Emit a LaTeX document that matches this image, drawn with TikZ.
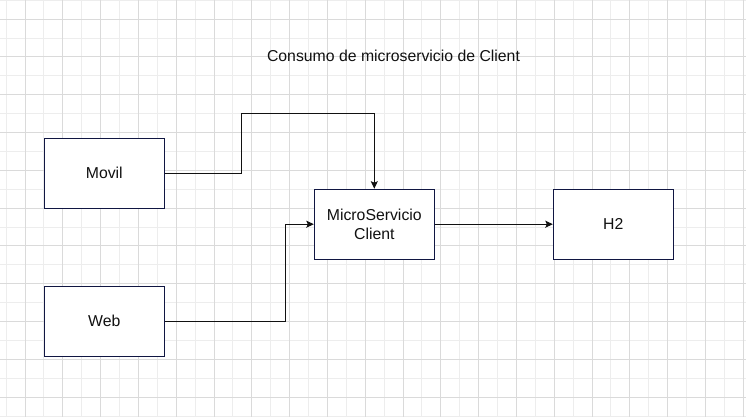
\documentclass[tikz,border=0pt]{standalone}
\usepackage{fontspec}
\setmainfont{Liberation Sans}
\usetikzlibrary{arrows.meta}
\definecolor{gridlight}{HTML}{EDEDED}
\definecolor{griddark}{HTML}{DADADA}
\definecolor{boxline}{RGB}{16,22,66}
\definecolor{ink}{HTML}{111111}
\tikzset{
  blockbox/.style={draw=boxline, line width=1pt, fill=white, minimum width=120pt, minimum height=70pt, inner sep=0pt, font=\fontsize{15.8}{19}\selectfont, text=ink, align=center},
  conn/.style={draw=ink, line width=1pt, -{Stealth[length=7.5pt,width=7pt,inset=1.5pt]}},
  titletext/.style={font=\fontsize{15.8}{19}\selectfont, text=ink, inner sep=0pt}
}
\begin{document}
\begin{tikzpicture}[x=1pt,y=-1pt]
\useasboundingbox (0,0) rectangle (746,417);
\fill[white] (0,0) rectangle (746,417);
% grid
\foreach \i in {0,...,19} {
  \draw[gridlight, line width=0.9pt] ({6.1+37.8*\i},0) -- ({6.1+37.8*\i},417);
}
\foreach \i in {0,...,11} {
  \draw[gridlight, line width=0.9pt] (0,{0.3+37.8*\i}) -- (746,{0.3+37.8*\i});
}
\foreach \i in {0,...,19} {
  \draw[griddark, line width=0.9pt] ({25+37.8*\i},0) -- ({25+37.8*\i},417);
}
\foreach \i in {0,...,10} {
  \draw[griddark, line width=0.9pt] (0,{19+37.8*\i}) -- (746,{19+37.8*\i});
}
% title
\node[titletext] (title) at (393.5,56) {Consumo de microservicio de Client};
% boxes
\node[blockbox] (movil) at (104.3,173) {Movil};
\node[blockbox] (web) at (104.3,321) {Web};
\node[blockbox] (micro) at (374.3,224.2) {MicroServicio\\Client};
\node[blockbox] (h2) at (613.3,224.2) {H2};
% connectors
\coordinate (m1) at (241.7,113.3);
\coordinate (w1) at (285.3,224.2);
\draw[conn] (movil.east) -| (m1) -| (micro.north);
\draw[conn] (web.east) -| (w1) -- (micro.west);
\draw[conn] (micro.east) -- (h2.west);
\end{tikzpicture}
\end{document}
